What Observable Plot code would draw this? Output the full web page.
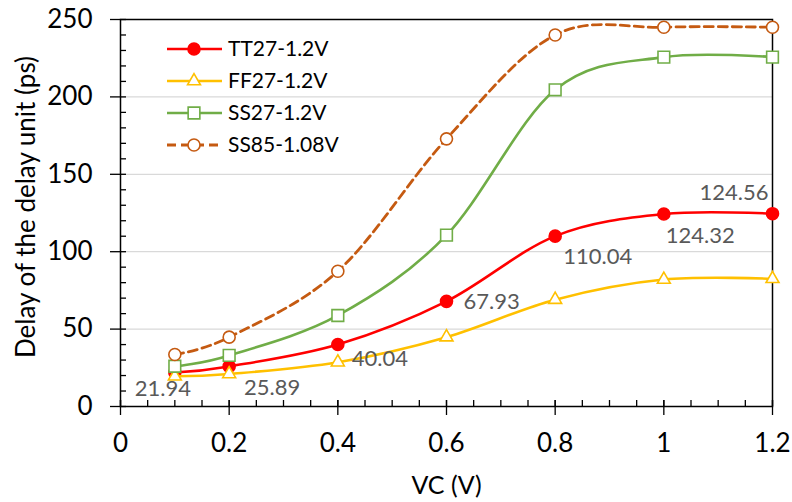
<!DOCTYPE html>
<html><head><meta charset="utf-8">
<script src="https://cdn.jsdelivr.net/npm/d3@7"></script>
<script src="https://cdn.jsdelivr.net/npm/@observablehq/plot@0.6"></script>
<style>
body{margin:0;background:#fff;}
#chart{position:relative;width:792px;height:502px;}
svg{font-family:Lato, "Open Sans", sans-serif;}
</style></head>
<body><div id="chart"></div>
<script>
const vc = [0.1, 0.2, 0.4, 0.6, 0.8, 1.0, 1.2];
const seriesNames = ["TT27-1.2V", "FF27-1.2V", "SS27-1.2V", "SS85-1.08V"];
const tt27 = [21.94, 25.89, 40.04, 67.93, 110.04, 124.32, 124.56];
const ff27 = [19.5, 21, 28.6, 44.8, 69, 82, 82.5];
const ss27 = [26, 33, 58.8, 110.7, 204.6, 225.7, 225.7];
const ss85 = [33.6, 44.8, 87.4, 172.9, 240, 245, 245];
const xTicks = [0, 0.2, 0.4, 0.6, 0.8, 1, 1.2];
const yTicks = [0, 50, 100, 150, 200, 250];
const xTitle = "VC (V)";
const yTitle = "Delay of the delay unit (ps)";

const colors = ["#FF0000", "#FFC000", "#70AD47", "#C55A11"];
const symbols = ["circle", "triangle", "square", "circle"];
const fills = ["#FF0000", "white", "white", "white"];
const radii = [6, 4.8, 6.6, 6];
const dashes = [null, null, null, "9,5"];
const widths = [2.6, 2.6, 2.6, 2.8];
const allValues = [tt27, ff27, ss27, ss85];

const series = seriesNames.map((name, s) => vc.map((x, i) => ({x, y: allValues[s][i], name, i})));
// label placement for TT27 data labels [dx, dy, anchor]
const labelPlace = [[-12, 16, "middle"], [43, 22, "middle"], [14, 14, "start"], [17, 1, "start"], [8, 21, "start"], [2, 22, "start"], [-4, -21, "end"]];

const W = 792, H = 502, mL = 120, mR = 20, mT = 19, mB = 96;
const plotH = H - mT - mB, plotW = W - mL - mR;
const xMinor = d3.range(0, 1.2001, 0.05).map(v => +v.toFixed(2));
const yMinor = d3.range(0, 250.01, 10);

const marks = [
  Plot.gridY([50, 100, 150, 200], {stroke: "#d9d9d9", strokeOpacity: 1, strokeWidth: 1.2}),
  Plot.tickX(xMinor, {x: d => d, insetTop: plotH - 6, stroke: "black", strokeWidth: 1.3}),
  Plot.tickY(yMinor, {y: d => d, insetRight: plotW - 6, stroke: "black", strokeWidth: 1.3}),
  Plot.axisX({ticks: xTicks, tickSize: 9, tickPadding: 18, fontSize: 26, tickFormat: d => String(d), label: null, strokeWidth: 1.3, color: "black"}),
  Plot.tickX(xTicks, {x: d => d, insetTop: plotH - 6, stroke: "black", strokeWidth: 1.3}),
  Plot.axisY({ticks: yTicks, tickSize: 10, tickPadding: 18, fontSize: 26, label: null, strokeWidth: 1.3, color: "black"}),
  Plot.frame({stroke: "black", strokeWidth: 1.5}),
];
series.forEach((data, s) => {
  marks.push(Plot.line(data, {x: "x", y: "y", stroke: colors[s], strokeWidth: widths[s], curve: "cardinal", tension: 0, strokeDasharray: dashes[s]}));
  marks.push(Plot.dot(data, {x: "x", y: "y", symbol: symbols[s], r: radii[s], stroke: colors[s], fill: fills[s], strokeWidth: 1.6}));
});
series[0].forEach((d, i) => {
  const [dx, dy, anchor] = labelPlace[i];
  marks.push(Plot.text([d], {x: "x", y: "y", text: d => d.y.toFixed(2), dx, dy, textAnchor: anchor, fontSize: 22, fill: "#595959"}));
});
marks.push(Plot.text([yTitle], {frameAnchor: "left", dx: -94, dy: -6, rotate: -90, textAnchor: "middle", fontSize: 26, fill: "black"}));
marks.push(Plot.text([xTitle], {frameAnchor: "bottom", dy: 87, textAnchor: "middle", fontSize: 25, fill: "black"}));

const chart = Plot.plot({
  width: W, height: H,
  marginLeft: mL, marginRight: mR, marginTop: mT, marginBottom: mB,
  x: {domain: [0, 1.2]},
  y: {domain: [0, 250]},
  style: {fontFamily: "Lato, 'Open Sans', sans-serif", background: "white"},
  marks
});
document.getElementById("chart").appendChild(chart);

// legend
const svg = d3.select(chart);
const lg = svg.append("g");
const rowY = [49, 81, 113, 145];
seriesNames.forEach((name, s) => {
  const g = lg.append("g").attr("transform", `translate(167,${rowY[s]})`);
  g.append("line").attr("x1", 0).attr("x2", 55).attr("stroke", colors[s]).attr("stroke-width", widths[s]).attr("stroke-dasharray", dashes[s]);
  const sym = d3.symbol().type({circle: d3.symbolCircle, triangle: d3.symbolTriangle, square: d3.symbolSquare}[symbols[s]]).size(Math.PI * radii[s] * radii[s]);
  g.append("path").attr("d", sym()).attr("transform", "translate(27,0)").attr("fill", fills[s]).attr("stroke", colors[s]).attr("stroke-width", 1.6);
  g.append("text").attr("x", 61).attr("dy", "0.35em").attr("text-anchor", "start").attr("font-size", 21).attr("fill", "black").text(name);
});
</script></body></html>
